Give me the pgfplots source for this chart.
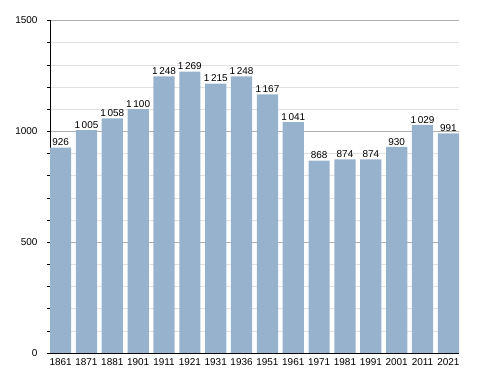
\documentclass[border=0pt]{standalone}
\usepackage{fontspec}
\setmainfont{Liberation Sans}
\usepackage{pgfplots}
\pgfplotsset{compat=1.18}
\definecolor{barblue}{RGB}{151,178,204}
\definecolor{majgrid}{RGB}{175,175,175}
\definecolor{mingrid}{RGB}{224,224,224}
\begin{document}
\begin{tikzpicture}
\path[use as bounding box] (-50bp,-20bp) rectangle (438bp,353bp);
\begin{axis}[
  scale only axis,
  width=409bp, height=332.5bp,
  anchor=south west, at={(0,0)},
  xmin=-0.41, xmax=15.41,
  ymin=0, ymax=1500,
  axis x line*=bottom, axis y line*=left,
  axis line style={black, line width=0.8pt, -},
  xtick=data,
  xticklabels={1861,1871,1881,1901,1911,1921,1931,1936,1951,1961,1971,1981,1991,2001,2011,2021},
  x tick style={draw=none},
  ytick={0,500,1000,1500},
  yticklabels={0,500,1000,1500},
  minor ytick={100,200,300,400,600,700,800,900,1100,1200,1300,1400},
  tick align=outside,
  major tick length=3bp, minor tick length=3bp,
  y tick style={black, line width=0.6pt},
  ymajorgrids, yminorgrids,
  major grid style={majgrid, line width=0.6pt},
  minor grid style={mingrid, line width=0.6pt},
  tick label style={font=\fontsize{10}{12}\selectfont},
  /pgf/number format/assume math mode=true,
  yticklabel style={xshift=-6bp},
  xticklabel style={yshift=1bp},
  ybar, bar width=0.82,
  nodes near coords,
  every node near coord/.append style={font=\fontsize{10}{12}\selectfont, black, inner sep=1.5bp, /pgf/number format/1000 sep={\,}},
]
\addplot[fill=barblue, draw=none] coordinates {
(0,926) (1,1005) (2,1058) (3,1100) (4,1248) (5,1269) (6,1215) (7,1248)
(8,1167) (9,1041) (10,868) (11,874) (12,874) (13,930) (14,1029) (15,991)};
\end{axis}
\end{tikzpicture}
\end{document}
